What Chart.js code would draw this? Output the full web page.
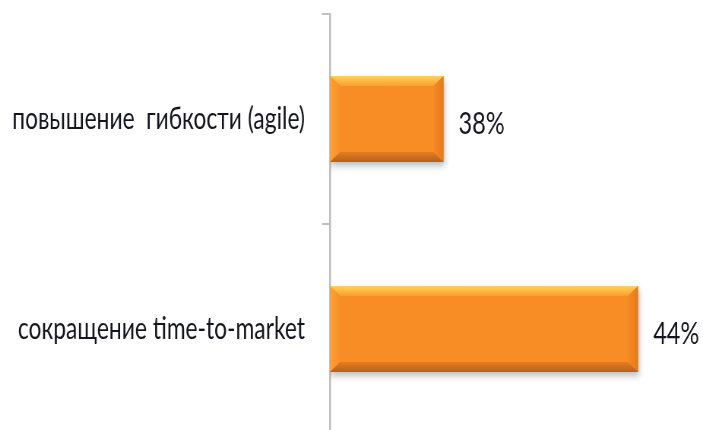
<!DOCTYPE html>
<html>
<head>
<meta charset="utf-8">
<script src="https://cdn.jsdelivr.net/npm/chart.js@4.4.1/dist/chart.umd.min.js"></script>
<style>
  html, body { margin: 0; padding: 0; background: #ffffff; overflow: hidden; }
  #wrap { position: relative; width: 703px; height: 445px; overflow: hidden; }
  #c { position: absolute; left: 0; top: 0; transform: scaleX(0.76); transform-origin: 0 0; }
</style>
</head>
<body>
<div id="wrap"><canvas id="c" width="925" height="445"></canvas></div>
<script>
const categories = ['повышение  гибкости (agile)', 'сокращение time-to-market'];
const values = [38, 44];
const valueLabels = ['38%', '44%'];
const axisMin = 34.5;
const axisMax = 46;

const SX = 0.76; // horizontal squeeze of the rendered picture
const FONT = 'Lato, "Open Sans", "Noto Sans", sans-serif';

const barDecor = {
  id: 'barDecor',
  beforeDatasetsDraw(chart) {
    const ctx = chart.ctx;
    ctx.save();
    ctx.shadowColor = 'rgba(0,0,0,0.28)';
    ctx.shadowBlur = 7;
    ctx.shadowOffsetX = 1;
    ctx.shadowOffsetY = 4;
  },
  afterDatasetsDraw(chart) {
    const ctx = chart.ctx;
    ctx.restore();
    const meta = chart.getDatasetMeta(0);
    meta.data.forEach((bar, i) => {
      const p = bar.getProps(['x', 'y', 'base', 'height'], true);
      const l = Math.min(p.base, p.x), r = Math.max(p.base, p.x);
      const t = p.y - p.height / 2, b = p.y + p.height / 2;
      const bv = 10, bh = 10 / SX;
      ctx.save();
      let g = ctx.createLinearGradient(0, t, 0, t + bv);
      g.addColorStop(0, '#ffd35a');
      g.addColorStop(1, '#fb9d30');
      ctx.fillStyle = g;
      ctx.beginPath();
      ctx.moveTo(l, t); ctx.lineTo(r, t); ctx.lineTo(r - bh, t + bv); ctx.lineTo(l + bh, t + bv); ctx.closePath();
      ctx.fill();
      g = ctx.createLinearGradient(l, 0, l + bh, 0);
      g.addColorStop(0, '#fca23a');
      g.addColorStop(1, '#f98e26');
      ctx.fillStyle = g;
      ctx.beginPath();
      ctx.moveTo(l, t); ctx.lineTo(l + bh, t + bv); ctx.lineTo(l + bh, b - bv); ctx.lineTo(l, b); ctx.closePath();
      ctx.fill();
      g = ctx.createLinearGradient(r - bh, 0, r, 0);
      g.addColorStop(0, '#f68a24');
      g.addColorStop(1, '#e27b1f');
      ctx.fillStyle = g;
      ctx.beginPath();
      ctx.moveTo(r, t); ctx.lineTo(r, b); ctx.lineTo(r - bh, b - bv); ctx.lineTo(r - bh, t + bv); ctx.closePath();
      ctx.fill();
      g = ctx.createLinearGradient(0, b - bv, 0, b);
      g.addColorStop(0, '#e57d20');
      g.addColorStop(1, '#b4611f');
      ctx.fillStyle = g;
      ctx.beginPath();
      ctx.moveTo(l, b); ctx.lineTo(r, b); ctx.lineTo(r - bh, b - bv); ctx.lineTo(l + bh, b - bv); ctx.closePath();
      ctx.fill();
      ctx.restore();

      ctx.save();
      ctx.font = '31px ' + FONT;
      ctx.fillStyle = '#14141e';
      ctx.textAlign = 'left';
      ctx.textBaseline = 'middle';
      ctx.fillText(valueLabels[i], r + 15 / SX, p.y + 5);
      ctx.restore();
    });
  }
};

new Chart(document.getElementById('c'), {
  type: 'bar',
  data: {
    labels: categories,
    datasets: [{
      data: values,
      base: axisMin,
      backgroundColor: '#f88c25',
      borderWidth: 0,
      categoryPercentage: 1.0,
      barPercentage: 0.41
    }]
  },
  plugins: [barDecor],
  options: {
    indexAxis: 'y',
    responsive: false,
    animation: false,
    devicePixelRatio: 1,
    layout: { padding: { top: 14, bottom: 11, left: 0, right: 0 } },
    plugins: { legend: { display: false }, tooltip: { enabled: false } },
    scales: {
      x: {
        display: false,
        min: axisMin,
        max: axisMax
      },
      y: {
        afterFit(scale) {
          scale.width = 330 / SX;
          scale.paddingTop = 0;
          scale.paddingBottom = 0;
        },
        border: { display: true, color: '#c0c0c0', width: 2.6 },
        grid: {
          display: true,
          drawOnChartArea: false,
          drawTicks: true,
          tickLength: 8 / SX,
          color: '#c0c0c0',
          lineWidth: 2
        },
        ticks: {
          padding: 17 / SX,
          color: '#14141e',
          font: { family: FONT, size: 30 }
        }
      }
    }
  }
});
</script>
</body>
</html>
